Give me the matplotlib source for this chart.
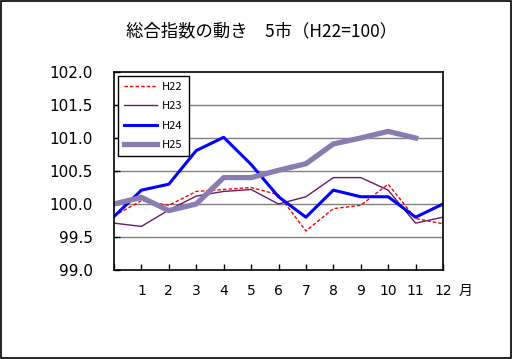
import matplotlib.pyplot as plt
from matplotlib.patches import Rectangle

plt.rcParams['font.family'] = ['Noto Sans CJK JP', 'DejaVu Sans']

months = list(range(0, 13))
month_labels = ["", "1", "2", "3", "4", "5", "6", "7", "8", "9", "10", "11", "12"]

h22 = [99.82, 100.05, 99.98, 100.19, 100.22, 100.25, 100.14, 99.59, 99.93, 99.98, 100.30, 99.78, 99.70]
h23 = [99.71, 99.66, 99.91, 100.12, 100.19, 100.22, 100.00, 100.11, 100.40, 100.40, 100.21, 99.71, 99.80]
h24 = [99.81, 100.21, 100.30, 100.81, 101.01, 100.60, 100.11, 99.80, 100.21, 100.11, 100.11, 99.80, 100.00]
h25 = [100.00, 100.10, 99.90, 100.00, 100.40, 100.40, 100.51, 100.61, 100.91, 101.00, 101.10, 101.00]

fig = plt.figure(figsize=(5.12, 3.59), dpi=100)
fig.patch.set_facecolor("white")
fig.patches.append(Rectangle((0.001, 0.002), 0.997, 0.996, transform=fig.transFigure,
                             fill=False, edgecolor="black", linewidth=1.2))

ax = fig.add_axes([114 / 512, 1 - 270 / 359, 329 / 512, 198 / 359])
ax.set_xlim(0, 12)
ax.set_ylim(99.0, 102.0)

for y in [99.5, 100.0, 100.5, 101.0, 101.5]:
    ax.axhline(y, color="#808080", linewidth=1, zorder=0)

ax.plot(months, h22, color="#ff0000", linewidth=1, linestyle=(0, (2.5, 1.5)), label="H22")
ax.plot(months, h23, color="#6a1a6a", linewidth=1, label="H23")
ax.plot(months, h24, color="#0000ff", linewidth=2.2, label="H24")
ax.plot(months[:len(h25)], h25, color="#8a7cb0", linewidth=3.8, label="H25")

yt = [99.0, 99.5, 100.0, 100.5, 101.0, 101.5, 102.0]
ax.set_yticks(yt)
ax.set_yticklabels([f"{v:.1f}" for v in yt], fontsize=11, family="DejaVu Sans")
ax.set_xticks(months)
ax.set_xticklabels(month_labels, fontsize=10, family="DejaVu Sans")
ax.tick_params(axis="both", direction="in", length=4, width=1, colors="black")
ax.tick_params(axis="y", pad=15)
ax.tick_params(axis="x", pad=10)
for s in ax.spines.values():
    s.set_linewidth(1.2)

ax.text(1.07, -0.105, "月", transform=ax.transAxes, fontsize=10, ha="center", va="center")

leg = ax.legend(loc="upper left", bbox_to_anchor=(0.012, 0.982), fancybox=False, framealpha=1,
                edgecolor="black", fontsize=8, handlelength=3.0, labelspacing=0.85,
                borderpad=0.55, handletextpad=0.4, borderaxespad=0)
leg.get_frame().set_linewidth(1)

fig.text(262 / 512, 1 - 31 / 359, "総合指数の動き　5市（H22=100）", fontsize=12.5,
         ha="center", va="center")

fig.savefig("out.png", dpi=100)
